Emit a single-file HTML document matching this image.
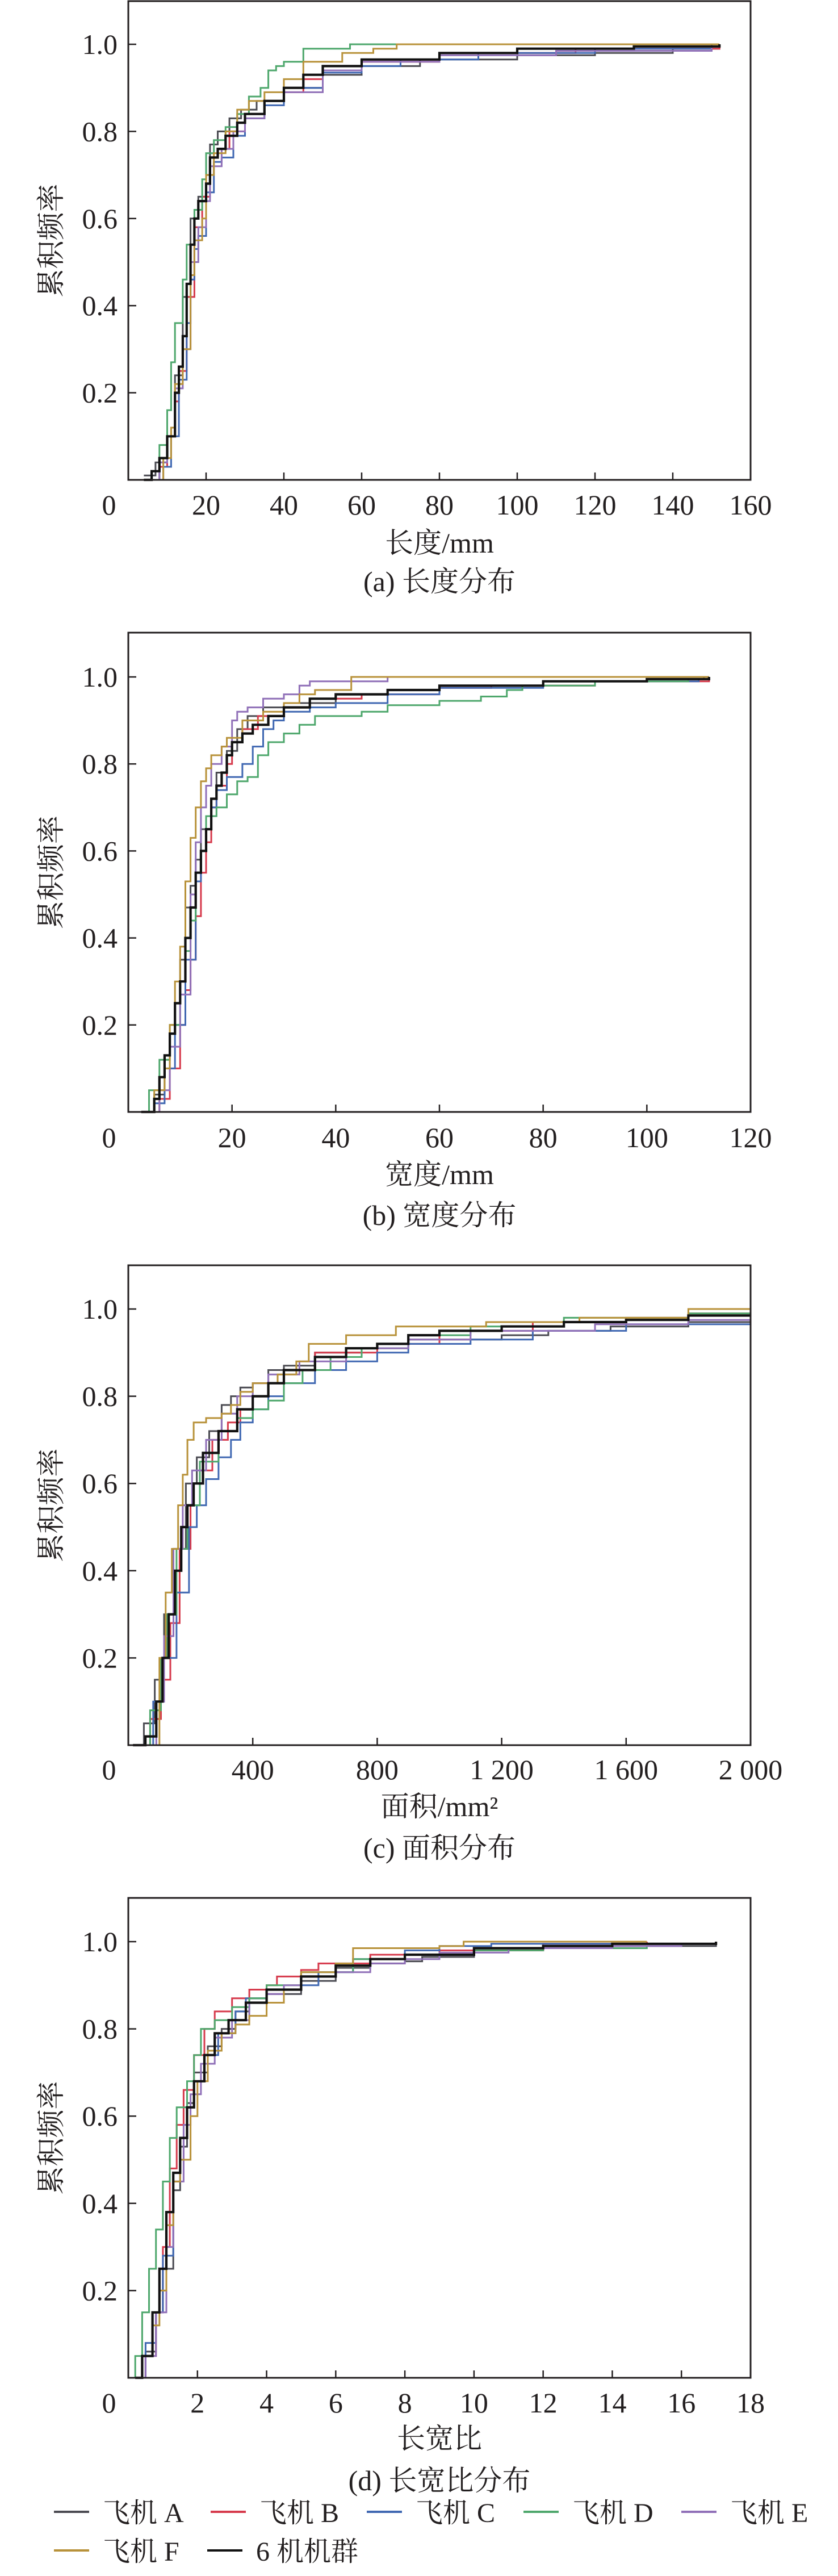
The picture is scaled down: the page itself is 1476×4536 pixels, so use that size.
<!DOCTYPE html>
<html><head><meta charset="utf-8"><style>
html,body{margin:0;padding:0;background:#fff;}
svg{display:block;}
text{font-family:"Liberation Serif","Noto Serif CJK SC",serif;fill:#231f20;}
</style></head><body>
<svg id="chart" width="1476" height="4536" viewBox="0 0 1476 4536" xmlns="http://www.w3.org/2000/svg"></svg>
<script>
const seriesNames = ["飞机 A","飞机 B","飞机 C","飞机 D","飞机 E","飞机 F","6 机机群"];
const seriesColors = ["#4b4b52","#d63a4c","#4068b2","#4ea76c","#9070b8","#b8923a","#111111"];
const yTicks = [0.2,0.4,0.6,0.8,1.0];
const yTickLabels = ["0.2","0.4","0.6","0.8","1.0"];

// panel (a) length
const lengthTicks = [20,40,60,80,100,120,140,160];
const lengthTickLabels = ["20","40","60","80","100","120","140","160"];
const lengthA = [[4,0.01],[7,0.04],[10,0.1],[12,0.24],[14,0.42],[16,0.6],[18,0.65],[20,0.7],[21,0.77],[23,0.8],[26,0.83],[29,0.85],[33,0.87],[40,0.9],[50,0.93],[60,0.95],[75,0.965],[100,0.975],[120,0.98],[140,0.99],[152,1.0]];
const lengthB = [[5,0],[8,0.03],[10,0.1],[12,0.18],[13,0.25],[15,0.42],[17,0.58],[19,0.65],[21,0.74],[23,0.76],[26,0.8],[30,0.84],[35,0.87],[40,0.89],[45,0.92],[50,0.95],[60,0.96],[80,0.98],[115,0.99],[152,1.0]];
const lengthC = [[6,0],[9,0.03],[11,0.1],[13,0.23],[15,0.36],[16,0.46],[17,0.53],[18,0.56],[20,0.66],[22,0.73],[24,0.74],[27,0.79],[30,0.83],[35,0.86],[40,0.9],[50,0.935],[60,0.95],[70,0.965],[90,0.98],[120,0.99],[150,1.0]];
const lengthD = [[4,0],[8,0.08],[10,0.16],[11,0.27],[12,0.36],[14,0.46],[15,0.54],[17,0.62],[19,0.69],[20,0.75],[22,0.78],[25,0.81],[28,0.84],[31,0.88],[34,0.9],[36,0.94],[38,0.95],[40,0.96],[45,0.99],[57,1.0],[70,1.0]];
const lengthE = [[5,0],[8,0.04],[10,0.1],[12,0.21],[14,0.3],[16,0.5],[18,0.58],[20,0.64],[21,0.72],[24,0.76],[27,0.8],[30,0.83],[35,0.87],[40,0.89],[50,0.94],[60,0.96],[80,0.975],[110,0.985],[150,0.995]];
const lengthF = [[5,0],[9,0.05],[11,0.12],[12,0.22],[14,0.3],[16,0.47],[17,0.55],[19,0.6],[20,0.7],[22,0.75],[25,0.8],[28,0.85],[31,0.87],[35,0.89],[40,0.92],[45,0.96],[55,0.98],[63,0.99],[69,1.0],[152,1.0]];
const lengthAll = [[4,0],[6,0.02],[8,0.05],[10,0.1],[12,0.2],[13,0.26],[14,0.33],[15,0.45],[16,0.54],[17,0.6],[18,0.64],[20,0.68],[21,0.74],[23,0.76],[25,0.79],[28,0.82],[30,0.84],[35,0.87],[40,0.9],[45,0.93],[50,0.95],[60,0.965],[80,0.98],[100,0.99],[130,0.995],[152,1.0]];

// panel (b) width
const widthTicks = [20,40,60,80,100,120];
const widthTickLabels = ["20","40","60","80","100","120"];
const widthA = [[3,0],[5,0.04],[7,0.12],[8,0.18],[9,0.25],[10,0.35],[11,0.47],[12,0.52],[13,0.58],[14,0.65],[16,0.72],[17,0.78],[19,0.83],[21,0.88],[23,0.91],[26,0.93],[30,0.94],[40,0.96],[50,0.97],[60,0.98],[80,0.99],[100,0.995],[111,1.0]];
const widthB = [[2,0],[6,0.03],[8,0.1],[10,0.2],[11,0.28],[12,0.35],[13,0.45],[14,0.55],[15,0.62],[16,0.7],[17,0.75],[19,0.8],[20,0.85],[22,0.88],[25,0.91],[30,0.93],[35,0.95],[45,0.96],[60,0.975],[70,0.98],[90,0.99],[112,1.0]];
const widthC = [[3,0],[5,0.02],[7,0.1],[9,0.2],[11,0.35],[13,0.53],[14,0.6],[15,0.65],[16,0.7],[17,0.74],[19,0.77],[22,0.8],[24,0.84],[26,0.88],[28,0.9],[30,0.92],[35,0.93],[40,0.94],[50,0.96],[60,0.975],[80,0.99],[110,0.995]];
const widthD = [[3,0],[4,0.05],[6,0.12],[8,0.2],[10,0.3],[11,0.37],[12,0.44],[13,0.55],[14,0.6],[15,0.68],[17,0.7],[19,0.73],[21,0.76],[23,0.77],[25,0.82],[27,0.85],[30,0.87],[33,0.89],[36,0.91],[45,0.92],[50,0.935],[60,0.945],[68,0.955],[73,0.97],[76,0.98],[90,0.99],[108,0.995]];
const widthE = [[3,0],[6,0.05],[8,0.15],[10,0.27],[12,0.5],[13,0.62],[14,0.7],[15,0.75],[16,0.8],[18,0.84],[20,0.9],[21,0.92],[23,0.93],[26,0.95],[30,0.96],[33,0.98],[35,0.99],[50,1.0]];
const widthF = [[3,0],[5,0.05],[7,0.1],[8,0.2],[9,0.3],[10,0.38],[11,0.53],[12,0.63],[13,0.7],[14,0.76],[15,0.79],[16,0.82],[18,0.84],[19,0.86],[22,0.9],[26,0.92],[30,0.94],[33,0.96],[36,0.97],[43,1.0],[112,1.0]];
const widthAll = [[2.5,0],[5,0.03],[6,0.08],[7,0.13],[8,0.18],[9,0.25],[10,0.3],[11,0.4],[12,0.47],[13,0.55],[14,0.6],[15,0.65],[16,0.72],[17,0.75],[18,0.78],[19,0.82],[20,0.85],[22,0.87],[24,0.89],[27,0.91],[30,0.93],[35,0.95],[40,0.96],[50,0.97],[60,0.98],[80,0.99],[100,0.995],[112,1.0]];

// panel (c) area
const areaTicks = [400,800,1200,1600,2000];
const areaTickLabels = ["400","800","1 200","1 600","2 000"];
const areaA = [[10,0],[50,0.05],[85,0.15],[115,0.3],[145,0.45],[185,0.6],[220,0.66],[260,0.72],[300,0.78],[330,0.8],[360,0.82],[400,0.83],[450,0.86],[500,0.87],[600,0.9],[750,0.91],[900,0.93],[1200,0.94],[1350,0.95],[1550,0.96],[1800,0.97],[2000,0.97]];
const areaB = [[20,0],[70,0.06],[105,0.15],[135,0.28],[165,0.45],[200,0.55],[230,0.63],[270,0.7],[320,0.74],[360,0.77],[400,0.8],[450,0.83],[500,0.86],[600,0.9],[800,0.92],[1000,0.95],[1300,0.97],[1600,0.98],[1800,0.99],[2000,0.995]];
const areaC = [[40,0],[80,0.1],[115,0.2],[155,0.35],[195,0.5],[220,0.55],[250,0.61],[290,0.66],[330,0.7],[360,0.74],[400,0.77],[450,0.8],[500,0.83],[600,0.86],[700,0.88],[800,0.9],[900,0.92],[1100,0.93],[1300,0.95],[1600,0.965],[2000,0.965]];
const areaD = [[15,0],[70,0.08],[105,0.2],[125,0.3],[155,0.45],[190,0.55],[230,0.65],[290,0.72],[350,0.75],[400,0.77],[450,0.79],[500,0.83],[560,0.86],[650,0.89],[750,0.91],[900,0.94],[1100,0.96],[1400,0.98],[1800,0.99],[2000,0.99]];
const areaE = [[50,0],[90,0.1],[115,0.25],[145,0.45],[175,0.55],[205,0.63],[250,0.7],[300,0.76],[350,0.8],[400,0.83],[450,0.85],[550,0.88],[700,0.91],[900,0.93],[1100,0.95],[1500,0.965],[1800,0.975],[2000,0.975]];
const areaF = [[88,0],[100,0.2],[120,0.35],[140,0.45],[160,0.55],[175,0.62],[190,0.7],[210,0.74],[250,0.75],[300,0.76],[330,0.78],[360,0.81],[400,0.83],[480,0.85],[540,0.88],[580,0.92],[700,0.94],[860,0.96],[1150,0.97],[1450,0.98],[1800,1.0],[2000,1.0]];
const areaAll = [[15,0],[55,0.02],[90,0.1],[110,0.2],[130,0.3],[150,0.4],[170,0.5],[190,0.55],[210,0.6],[240,0.67],[290,0.72],[350,0.77],[400,0.8],[450,0.83],[500,0.86],[600,0.89],[700,0.91],[800,0.92],[900,0.94],[1000,0.95],[1200,0.96],[1400,0.97],[1600,0.975],[1800,0.985],[2000,0.985]];

// panel (d) aspect ratio
const ratioTicks = [2,4,6,8,10,12,14,16,18];
const ratioTickLabels = ["2","4","6","8","10","12","14","16","18"];
const ratioA = [[0.2,0],[0.5,0.06],[0.8,0.15],[1.0,0.25],[1.3,0.43],[1.5,0.53],[1.7,0.63],[1.9,0.7],[2.3,0.76],[2.7,0.8],[3.1,0.84],[3.5,0.87],[4,0.88],[5,0.91],[6,0.94],[7,0.95],[8,0.955],[8.5,0.965],[10,0.98],[12,0.99],[17,0.995]];
const ratioB = [[0.2,0],[0.5,0.05],[0.8,0.15],[1.0,0.3],[1.2,0.48],[1.4,0.58],[1.6,0.66],[1.9,0.74],[2.2,0.8],[2.5,0.84],[3,0.87],[3.5,0.89],[4,0.9],[4.3,0.92],[5,0.935],[5.5,0.95],[7,0.97],[9,0.98],[12,0.995],[15,1.0]];
const ratioC = [[0.2,0],[0.5,0.08],[0.8,0.15],[1.0,0.28],[1.3,0.45],[1.5,0.55],[1.7,0.62],[1.9,0.68],[2.2,0.74],[2.6,0.79],[3.1,0.84],[3.4,0.87],[4,0.89],[5,0.9],[5.5,0.93],[6.5,0.96],[8,0.98],[9,0.99],[10.5,0.995],[17,1.0]];
const ratioD = [[0.1,0],[0.2,0.05],[0.4,0.15],[0.6,0.25],[0.8,0.34],[1.0,0.45],[1.2,0.55],[1.4,0.62],[1.7,0.68],[1.9,0.74],[2.1,0.8],[2.5,0.82],[3,0.85],[3.5,0.87],[4,0.9],[5,0.93],[6.5,0.96],[8,0.97],[10,0.98],[12,0.985],[15,0.99]];
const ratioE = [[0.2,0],[0.5,0.05],[0.8,0.15],[1.1,0.3],[1.3,0.45],[1.6,0.58],[1.8,0.65],[2.1,0.72],[2.5,0.78],[3,0.82],[3.5,0.86],[4,0.88],[4.5,0.9],[5,0.92],[6,0.93],[7,0.95],[8,0.96],[9,0.975],[11,0.985],[14,0.99],[16,0.995]];
const ratioF = [[0.2,0],[0.4,0.05],[0.7,0.12],[0.9,0.2],[1.1,0.35],[1.3,0.45],[1.5,0.5],[1.8,0.6],[2.0,0.68],[2.3,0.75],[2.7,0.79],[3.1,0.81],[3.5,0.83],[4,0.86],[4.5,0.89],[5,0.93],[6,0.95],[6.5,0.985],[9,0.99],[9.7,1.0],[15,1.0]];
const ratioAll = [[0.2,0],[0.4,0.05],[0.7,0.15],[0.9,0.25],[1.1,0.38],[1.3,0.47],[1.5,0.55],[1.7,0.62],[1.9,0.68],[2.2,0.74],[2.5,0.79],[2.9,0.82],[3.4,0.86],[4,0.89],[5,0.92],[6,0.945],[7,0.96],[8,0.97],[10,0.985],[12,0.99],[14,0.995],[17,1.0]];

const NS = "http://www.w3.org/2000/svg";
const svg = document.getElementById("chart");
function mk(tag, attrs, parent) {
  const e = document.createElementNS(NS, tag);
  for (const k in attrs) e.setAttribute(k, attrs[k]);
  (parent || svg).appendChild(e);
  return e;
}

const panels = [
  {key:"length", top:2, y1:78, y0:845, xmax:160, ticks:lengthTicks, labels:lengthTickLabels, series:[lengthA,lengthB,lengthC,lengthD,lengthE,lengthF,lengthAll], xlab:"长度/mm", cap:"(a) 长度分布", labY:889, titleY:956, capY:1024},
  {key:"width", top:1114, y1:1192, y0:1958, xmax:120, ticks:widthTicks, labels:widthTickLabels, series:[widthA,widthB,widthC,widthD,widthE,widthF,widthAll], xlab:"宽度/mm", cap:"(b) 宽度分布", labY:2003, titleY:2068, capY:2140},
  {key:"area", top:2228, y1:2305, y0:3073, xmax:2000, ticks:areaTicks, labels:areaTickLabels, series:[areaA,areaB,areaC,areaD,areaE,areaF,areaAll], xlab:"面积/mm²", cap:"(c) 面积分布", labY:3116, titleY:3181, capY:3254},
  {key:"ratio", top:3342, y1:3419, y0:4187, xmax:18, ticks:ratioTicks, labels:ratioTickLabels, series:[ratioA,ratioB,ratioC,ratioD,ratioE,ratioF,ratioAll], xlab:"长宽比", cap:"(d) 长宽比分布", labY:4231, titleY:4294, capY:4368}
];
const L = 226, R = 1322;

panels.forEach(function(p){
  const g = mk("g", {});
  
  
  const xs = function(v){ return L + v / p.xmax * (R - L); };
  const ys = function(v){ return p.y0 - v * (p.y0 - p.y1); };
  p.series.forEach(function(s, i){
    let d = "M" + xs(s[0][0]).toFixed(1) + "," + ys(s[0][1]).toFixed(1);
    for (let j = 1; j < s.length; j++) {
      d += "H" + xs(s[j][0]).toFixed(1) + "V" + ys(s[j][1]).toFixed(1);
    }
    const path = mk("path", {d:d, fill:"none", stroke:seriesColors[i], "stroke-width": i === 6 ? 4.2 : 3, "stroke-linejoin":"miter"}, g);
    
    
  });
  const frame = mk("rect", {x:L, y:p.top, width:R-L, height:p.y0-p.top, fill:"none", stroke:"#231f20", "stroke-width":3}, g);
  
  
  yTicks.forEach(function(t, i){
    const tk = mk("line", {x1:L, x2:L+14, y1:ys(t), y2:ys(t), stroke:"#231f20", "stroke-width":2.5}, g);
    
    
    const tl = mk("text", {x:207, y:ys(t)+17, "text-anchor":"end", "font-size":50}, g);
    tl.textContent = yTickLabels[i];
    
    
  });
  p.ticks.forEach(function(t, i){
    const tk = mk("line", {x1:xs(t), x2:xs(t), y1:p.y0, y2:p.y0-13, stroke:"#231f20", "stroke-width":2.5}, g);
    
    
    const tl = mk("text", {x:xs(t), y:p.labY+17, "text-anchor":"middle", "font-size":50}, g);
    tl.textContent = p.labels[i];
    
    
  });
  const z = mk("text", {x:192, y:p.labY+17, "text-anchor":"middle", "font-size":50}, g);
  z.textContent = "0";
  
  
  const xt = mk("text", {x:774, y:p.titleY+17, "text-anchor":"middle", "font-size":50}, g);
  xt.textContent = p.xlab;
  
  
  const cy = (p.top + p.y0) / 2;
  const yt = mk("text", {x:0, y:0, "text-anchor":"middle", "font-size":50, transform:"translate(107," + cy + ") rotate(-90)"}, g);
  yt.textContent = "累积频率";
  
  
  const cp = mk("text", {x:774, y:p.capY+17, "text-anchor":"middle", "font-size":50}, g);
  cp.textContent = p.cap;
  
  
});

const legendPos = [[95,4435],[371,4435],[646,4435],[922,4435],[1200,4435],[95,4503],[365,4503]];
const lg = mk("g", {});


seriesNames.forEach(function(n, i){
  const x = legendPos[i][0], y = legendPos[i][1];
  const ent = mk("g", {}, lg);
  
  
  mk("line", {x1:x, x2:x+62, y1:y-12, y2:y-12, stroke:seriesColors[i], "stroke-width":4}, ent);
  const t = mk("text", {x:x+86, y:y+6, "font-size":48}, ent);
  t.textContent = n;
});
</script>
</body></html>
